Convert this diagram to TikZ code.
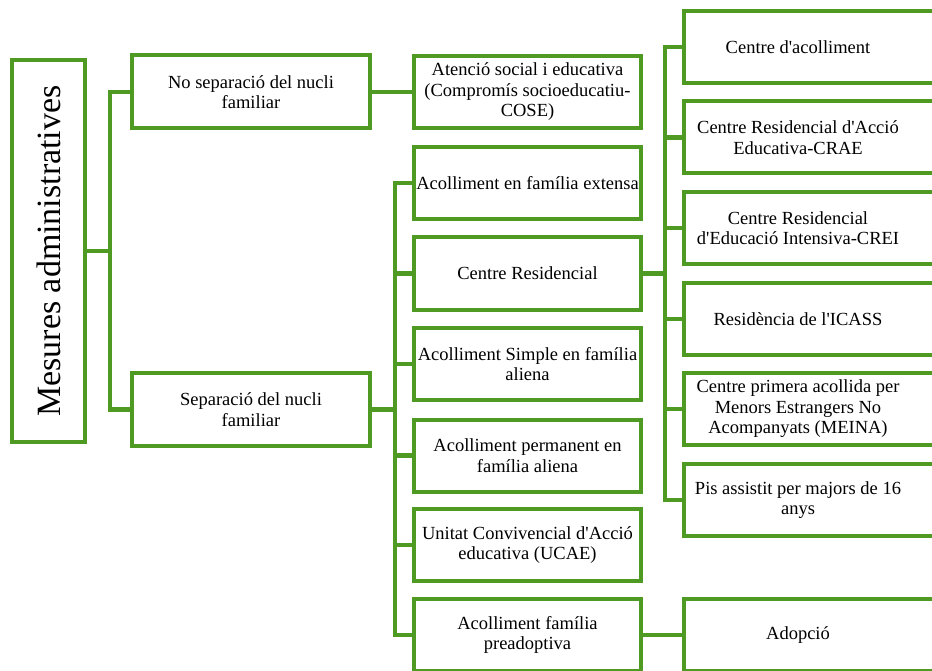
\documentclass[tikz,border=0pt]{standalone}
\usepackage{fontspec}
\setmainfont{Liberation Serif}
\usepackage{xcolor}
\definecolor{verd}{RGB}{78,154,34}
\newcommand{\apos}{\textquotesingle}
\newcommand{\dreta}[1]{\makebox[280pt][l]{\parbox{228pt}{\centering #1}}}
\tikzset{
  caixa/.style={draw=verd, line width=4pt, fill=white, inner sep=0pt,
    minimum width=227pt, minimum height=72pt, align=center,
    font=\fontsize{18.5}{20.5}\selectfont},
  caixad/.style={draw=verd, line width=4pt, fill=white, inner sep=0pt,
    minimum height=72pt, font=\fontsize{18.5}{20.5}\selectfont},
  lligam/.style={draw=verd, line width=4.2pt, line cap=rect}
}
\begin{document}
\begin{tikzpicture}[x=1pt,y=-1pt]
                \useasboundingbox (0,0) rectangle (932,671);
                \clip (0,0) rectangle (932,671);
                \node [caixa, minimum width=73pt, minimum height=382pt] (arrel) at (48.5,251) {\rotatebox{90}{\fontsize{34}{40}\selectfont Mesures administratives}};
                \node [caixa, minimum width=238pt, minimum height=73pt] (nosep) at (251,92) {No separació del nucli\\familiar};
                \node [caixa, minimum width=238pt, minimum height=73pt] (sep) at (251,409.5) {Separació del nucli\\familiar};
                \node [caixa] (atencio) at (527.5,92) {Atenció social i educativa\\(Compromís socioeducatiu-\\COSE)};
                \node [caixa] (extensa) at (527.5,183) {Acolliment en família extensa};
                \node [caixa] (residencial) at (527.5,273.5) {Centre Residencial};
                \node [caixa] (simple) at (527.5,364) {Acolliment Simple en família\\aliena};
                \node [caixa] (permanent) at (527.5,455.5) {Acolliment permanent en\\família aliena};
                \node [caixa] (ucae) at (527.5,545) {Unitat Convivencial d\apos Acció\\educativa (UCAE)};
                \node [caixa] (preadop) at (527.5,635) {Acolliment família\\preadoptiva};
                \node [caixad] (cda) at (824,47) {\dreta{Centre d\apos acolliment}};
                \node [caixad] (crae) at (824,137.5) {\dreta{Centre Residencial d\apos Acció\\Educativa-CRAE}};
                \node [caixad] (crei) at (824,228) {\dreta{Centre Residencial\\d\apos Educació Intensiva-CREI}};
                \node [caixad] (icass) at (824,319) {\dreta{Residència de l\apos ICASS}};
                \node [caixad] (meina) at (824,409) {\dreta{Centre primera acollida per\\Menors Estrangers No\\Acompanyats (MEINA)}};
                \node [caixad] (pis) at (824,500) {\dreta{Pis assistit per majors de 16\\anys}};
                \node [caixad] (adop) at (824,635) {\dreta{Adopció}};
                % primer nivell
                \draw [lligam] (arrel.east) -- ++(23,0) coordinate (b1);
                \draw [lligam] (b1) |- (nosep.west);
                \draw [lligam] (b1) |- (sep.west);
                \draw [lligam] (nosep.east) -- (atencio.west);
                % separacio
                \draw [lligam] (sep.east) -- ++(23,0) coordinate (b2);
                \draw [lligam] (b2) |- (extensa.west);
                \draw [lligam] (b2) |- (residencial.west);
                \draw [lligam] (b2) |- (simple.west);
                \draw [lligam] (b2) |- (permanent.west);
                \draw [lligam] (b2) |- (ucae.west);
                \draw [lligam] (b2) |- (preadop.west);
                \draw [lligam] (preadop.east) -- (adop.west);
                % centres
                \draw [lligam] (residencial.east) -- ++(22,0) coordinate (b3);
                \draw [lligam] (b3) |- (cda.west);
                \draw [lligam] (b3) |- (crae.west);
                \draw [lligam] (b3) |- (crei.west);
                \draw [lligam] (b3) |- (icass.west);
                \draw [lligam] (b3) |- (meina.west);
                \draw [lligam] (b3) |- (pis.west);
\end{tikzpicture}
\end{document}
